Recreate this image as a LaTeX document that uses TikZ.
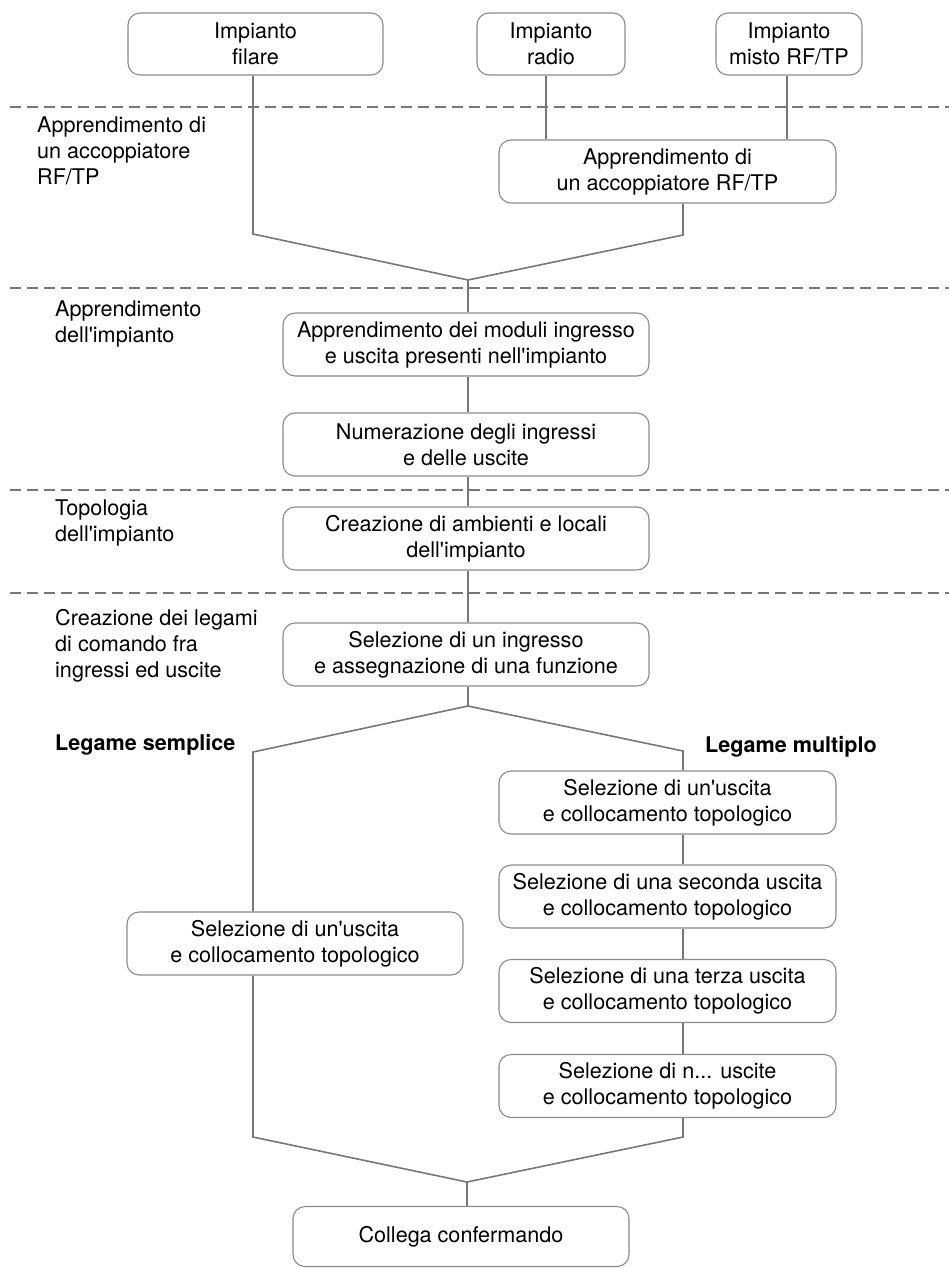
\documentclass[tikz,border=0pt]{standalone}
\usepackage{fontspec}
\setmainfont{TeX Gyre Heros}
\newcommand{\aq}{\textquotesingle}
\definecolor{linec}{HTML}{777777}
\definecolor{boxc}{HTML}{8A8A8A}
\begin{document}
\begin{tikzpicture}[x=1pt,y=-1pt,
  txt/.style={font=\fontsize{21.6}{26}\selectfont},
  box/.style={txt, draw=boxc, line width=1.1pt, rounded corners=12pt, align=center, inner sep=0pt, text=black},
  wbox/.style={box, minimum width=337pt, minimum height=63pt},
  mbox/.style={box, minimum width=366pt, minimum height=63pt},
  conn/.style={draw=linec, line width=1.6pt},
  sep/.style={draw=linec, line width=2.2pt, dash pattern=on 11pt off 6pt},
  lbl/.style={txt, anchor=base west, align=left, inner sep=0pt},
  blbl/.style={font=\fontsize{21.6}{26}\selectfont\bfseries, inner sep=0pt}]
\useasboundingbox (0,0) rectangle (949,1268);

% separators
\draw[sep] (10,107) -- (949,107);
\draw[sep] (10,288) -- (949,288);
\draw[sep] (10,490) -- (949,490);
\draw[sep] (10,593) -- (949,593);

% top boxes
\node[box, minimum width=255pt, minimum height=62pt] (filare) at (255.5,44) {Impianto\\filare};
\node[box, minimum width=148pt, minimum height=62pt] (radio) at (551,44) {Impianto\\radio};
\node[box, minimum width=146pt, minimum height=62pt] (misto) at (789,44) {Impianto\\misto RF/TP};
\node[wbox] (accop) at (667.5,171.5) {Apprendimento di\\un accoppiatore RF/TP};

% middle column
\node[mbox] (moduli) at (466,344.5) {Apprendimento dei moduli ingresso\\e uscita presenti nell\aq impianto};
\node[mbox] (numer) at (466,444.5) {Numerazione degli ingressi\\e delle uscite};
\node[mbox] (ambienti) at (466,538.5) {Creazione di ambienti e locali\\dell\aq impianto};
\node[mbox] (ingresso) at (466,654.5) {Selezione di un ingresso\\e assegnazione di una funzione};

% branches
\node[wbox, minimum width=336pt] (left) at (295,943.5) {Selezione di un\aq uscita\\e collocamento topologico};
\node[wbox] (r1) at (667.5,802.5) {Selezione di un\aq uscita\\e collocamento topologico};
\node[wbox] (r2) at (667.5,896.5) {Selezione di una seconda uscita\\e collocamento topologico};
\node[wbox] (r3) at (667.5,991) {Selezione di una terza uscita\\e collocamento topologico};
\node[wbox] (r4) at (667.5,1086) {Selezione di n... uscite\\e collocamento topologico};
\node[wbox, minimum width=336pt, minimum height=60pt] (collega) at (461,1236.5) {Collega confermando};

% labels (base = baseline of the last line)
\node[lbl] (l1) at (37,185) {Apprendimento di\\un accoppiatore\\RF/TP};
\node[lbl] (l2) at (55,342) {Apprendimento\\dell\aq impianto};
\node[lbl] (l3) at (55,541) {Topologia\\dell\aq impianto};
\node[lbl] (l4) at (55,677) {Creazione dei legami\\di comando fra\\ingressi ed uscite};
\node[blbl, anchor=base west] (ls) at (55,750) {Legame semplice};
\node[blbl, anchor=base east] (lm) at (877,752) {Legame multiplo};

% coordinates
\coordinate (fk) at (253,234);
\coordinate (ak) at (683,235);
\coordinate (m1) at (468,280);
\coordinate (b0) at (468,706);
\coordinate (bl) at (253,752);
\coordinate (br) at (683,751);
\coordinate (cl) at (253,1137);
\coordinate (cr) at (683,1137);
\coordinate (m2) at (467,1182);

% connectors
\draw[conn] (filare.south -| fk) -- (fk) -- (m1);
\draw[conn] (accop.south -| ak) -- (ak) -- (m1);
\draw[conn] ([xshift=-5pt]radio.south) -- ([xshift=-5pt]radio.south |- accop.north);
\draw[conn] ([xshift=-2pt]misto.south) -- ([xshift=-2pt]misto.south |- accop.north);
\draw[conn] (m1) -- (m1 |- moduli.north);
\draw[conn] (moduli.south -| m1) -- (numer.north -| m1);
\draw[conn] (numer.south -| m1) -- (ambienti.north -| m1);
\draw[conn] (ambienti.south -| m1) -- (ingresso.north -| m1);
\draw[conn] (ingresso.south -| b0) -- (b0);
\draw[conn] (b0) -- (bl) -- (bl |- left.north);
\draw[conn] (b0) -- (br) -- (br |- r1.north);
\draw[conn] (r1.south -| br) -- (r2.north -| br);
\draw[conn] (r2.south -| br) -- (r3.north -| br);
\draw[conn] (r3.south -| br) -- (r4.north -| br);
\draw[conn] (left.south -| cl) -- (cl) -- (m2);
\draw[conn] (r4.south -| cr) -- (cr) -- (m2);
\draw[conn] (m2) -- (m2 |- collega.north);
\end{tikzpicture}
\end{document}
